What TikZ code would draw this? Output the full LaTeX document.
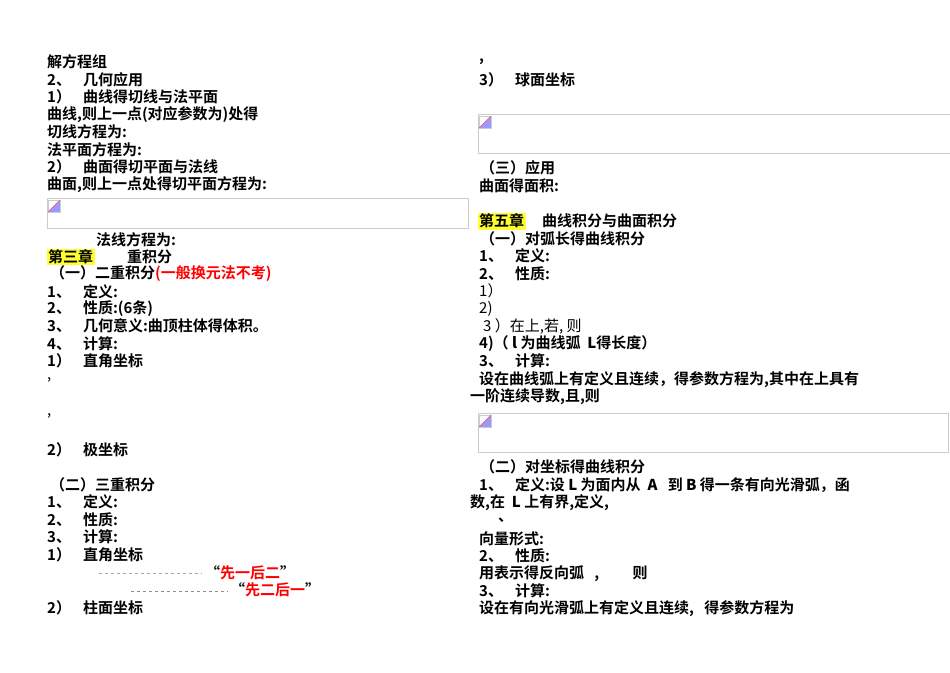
\documentclass[tikz,border=0pt]{standalone}
\usepackage{fontspec}
\setmainfont{Noto Sans CJK SC}[BoldFont={Noto Sans CJK SC Bold}]
\definecolor{hl}{HTML}{FFFF33}
\definecolor{rd}{HTML}{FF0000}
\definecolor{bx}{HTML}{CCCCCC}
\tikzset{ln/.style={anchor=west,inner sep=0pt,font=\fontsize{15}{16}\selectfont\bfseries},
 lt/.style={anchor=west,inner sep=0pt,font=\fontsize{15}{16}\selectfont},
 imgbox/.style={draw=bx,line width=1pt}}
\newcommand\numgap{\hspace{12pt}}
\begin{document}
\begin{tikzpicture}[x=1pt,y=-1pt]
\useasboundingbox (0,0) rectangle (950,672);
% left column
\node[ln] (a1) at (47,62) {解方程组};
\node[ln] (a2) at (47,80) {2、\numgap 几何应用};
\node[ln] (a3) at (47,97) {1）\numgap 曲线得切线与法平面};
\node[ln] (a4) at (47,115) {曲线,则上一点(对应参数为)处得};
\node[ln] (a5) at (47,132) {切线方程为:};
\node[ln] (a6) at (47,150) {法平面方程为:};
\node[ln] (a7) at (47,167) {2）\numgap 曲面得切平面与法线};
\node[ln] (a8) at (47,185) {曲面,则上一点处得切平面方程为:};
\draw[imgbox] (47,198) rectangle (468,228);
\fill[blue!40] (48,212) -- (60,200) -- (60,212) -- cycle;
\draw[bx,line width=0.6pt] (48,200) rectangle (60,212);
\draw[rd!70,line width=0.6pt] (48,212) -- (60,200);
\node[ln] (a9) at (96,240) {法线方程为:};
\fill[hl] (47,249) rectangle (95,265);
\node[ln] (a10) at (48,257) {第三章};
\node[ln] (a11) at (127,257) {重积分};
\node[ln] (a12) at (50,274) {（一）二重积分\textcolor{rd}{(一般换元法不考)}};
\node[ln] (a13) at (47,292) {1、\numgap 定义:};
\node[ln] (a14) at (47,309) {2、\numgap 性质:(6条)};
\node[ln] (a15) at (47,326) {3、\numgap 几何意义:曲顶柱体得体积。};
\node[ln] (a16) at (47,344) {4、\numgap 计算:};
\node[ln] (a17) at (47,361) {1）\numgap 直角坐标};
\node[lt] (c1) at (47,380) {,};
\node[lt] (c2) at (47,416) {,};
\node[ln] (a18) at (47,450) {2）\numgap 极坐标};
\node[ln] (a19) at (50,485) {（二）三重积分};
\node[ln] (a20) at (47,502) {1、\numgap 定义:};
\node[ln] (a21) at (47,520) {2、\numgap 性质:};
\node[ln] (a22) at (47,537) {3、\numgap 计算:};
\node[ln] (a23) at (47,555) {1）\numgap 直角坐标};
\draw[gray!70,dashed,line width=0.8pt] (99,573) -- (202,573);
\node[ln] (a24) at (205,573) {“\textcolor{rd}{先一后二}”};
\draw[gray!90,dashed,line width=0.8pt] (131,591) -- (228,591);
\node[ln] (a25) at (230,590) {“\textcolor{rd}{先二后一}”};
\node[ln] (a26) at (47,608) {2）\numgap 柱面坐标};
% right column
\node[ln] (b0) at (479,62) {,};
\node[ln] (b1) at (479,80) {3）\numgap 球面坐标};
\draw[imgbox] (478,114) rectangle (952,153);
\fill[blue!40] (479,128) -- (491,116) -- (491,128) -- cycle;
\draw[bx,line width=0.6pt] (479,116) rectangle (491,128);
\draw[rd!70,line width=0.6pt] (479,128) -- (491,116);
\node[ln] (b2) at (480,168) {（三）应用};
\node[ln] (b3) at (479,186) {曲面得面积:};
\fill[hl] (478,213) rectangle (526,230);
\node[ln] (b4) at (479,221) {第五章};
\node[ln] (b5) at (542,221) {曲线积分与曲面积分};
\node[ln] (b6) at (480,239) {（一）对弧长得曲线积分};
\node[ln] (b7) at (479,256) {1、\numgap 定义:};
\node[ln] (b8) at (479,274) {2、\numgap 性质:};
\node[lt] (b9) at (479,291) {1）};
\node[lt] (b10) at (479,309) {2)};
\node[lt] (b11) at (483,326) {3 ）在上,若, 则};
\node[ln] (b12) at (479,344) {4)（ \textit{l} 为曲线弧 \ \textit{L}得长度）};
\node[ln] (b13) at (479,361) {3、\numgap 计算:};
\node[ln] (b14) at (479,380) {设在曲线弧上有定义且连续，得参数方程为,其中在上具有};
\node[ln] (b15) at (470,397) {一阶连续导数,且,则};
\draw[imgbox] (478,413) rectangle (948,452);
\fill[blue!40] (479,427) -- (491,415) -- (491,427) -- cycle;
\draw[bx,line width=0.6pt] (479,415) rectangle (491,427);
\draw[rd!70,line width=0.6pt] (479,427) -- (491,415);
\node[ln] (b16) at (480,467) {（二）对坐标得曲线积分};
\node[ln] (b17) at (479,485) {1、\numgap 定义:设 \textit{L} 为面内从 \ \textit{A} \ \ 到 \textit{B} 得一条有向光滑弧，函};
\node[ln] (b18) at (470,503) {数,在 \ \textit{L} 上有界,定义,};
\node[ln] (b19) at (498,520) {、};
\node[ln] (b20) at (479,539) {向量形式:};
\node[ln] (b21) at (479,556) {2、\numgap 性质:};
\node[ln] (b22) at (479,574) {用表示得反向弧 \ \ , \qquad 则};
\node[ln] (b23) at (479,591) {3、\numgap 计算:};
\node[ln] (b24) at (479,609) {设在有向光滑弧上有定义且连续, \ \ 得参数方程为};
\end{tikzpicture}
\end{document}
